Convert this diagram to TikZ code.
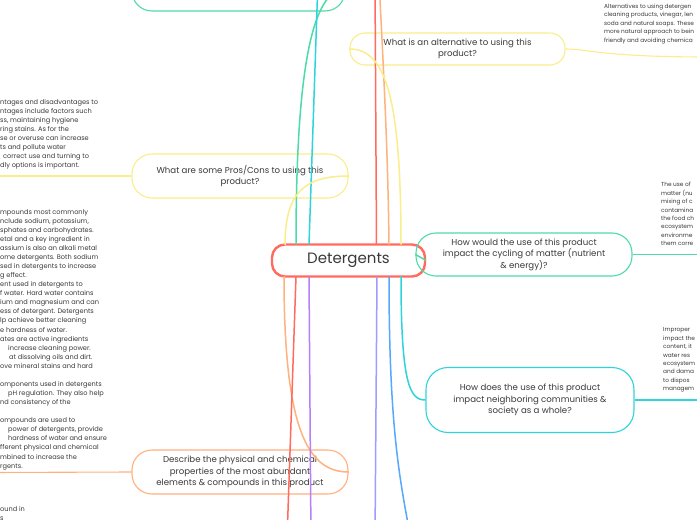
\documentclass[tikz,border=0pt]{standalone}
\usepackage{fontspec}
\setmainfont{Poppins}
\definecolor{txt}{HTML}{3A3A3A}
\definecolor{cred}{HTML}{FF6B5E}
\definecolor{corange}{HTML}{FFB27E}
\definecolor{cyellow}{HTML}{FAEE8C}
\definecolor{cgreen}{HTML}{4FDBA8}
\definecolor{ccyan}{HTML}{2FD3DC}
\definecolor{cpurple}{HTML}{B87FFA}
\definecolor{clav}{HTML}{A09CFF}
\definecolor{cblue}{HTML}{56A8FF}
\begin{document}
\begin{tikzpicture}[x=1pt,y=-1pt,
  topic/.style={draw, line width=1.1pt, rounded corners=20pt, text=txt, align=center,
    inner sep=0pt, font=\fontsize{8.6}{11.6}\selectfont},
  central/.style={draw=cred, line width=2.4pt, rounded corners=13pt, text=txt,
    inner sep=0pt, minimum width=153pt, minimum height=32pt, font=\fontsize{15}{18}\selectfont},
  leftnote/.style={anchor=north west, inner sep=0pt, align=left, text=txt,
    font=\fontsize{6.6}{9.07}\selectfont},
  rightnote/.style={anchor=north west, inner sep=0pt, align=left, text=txt,
    font=\fontsize{5.8}{8.4}\selectfont},
  branch/.style={line width=1.5pt},
  leaf/.style={line width=1.1pt}
]
\useasboundingbox (0,0) rectangle (697,520);
\fill[white] (0,0) rectangle (697,520);
\begin{scope}
\clip (0,0) rectangle (697,520);

% nodes
\node[central] (c) at (348.5,260.5) {Detergents};
\node[topic, draw=cgreen, minimum width=213pt, minimum height=44pt] (top) at (238.5,-11) {\strut\\product?};
\node[topic, draw=cyellow, minimum width=215pt, minimum height=32pt, rounded corners=15pt] (alt) at (457.5,49) {What is an alternative to using this\\product?};
\node[topic, draw=cyellow, minimum width=216pt, minimum height=44pt] (pc) at (240,176) {What are some Pros/Cons to using this\\product?};
\node[topic, draw=corange, minimum width=216pt, minimum height=44pt] (desc) at (240,472) {Describe the physical and chemical\\properties of the most abundant\\elements \& compounds in this product};
\node[topic, draw=cgreen, minimum width=216pt, minimum height=43pt] (hw) at (524,254.5) {How would the use of this product\\impact the cycling of matter (nutrient\\\& energy)?};
\node[topic, draw=ccyan, minimum width=208pt, minimum height=65pt, rounded corners=22pt] (hd) at (530,400) {How does the use of this product\\impact neighboring communities \&\\society as a whole?};

% attach points on the central node
\coordinate (cgt) at (296,244.5);
\coordinate (cct) at (309,244.5);
\coordinate (crt) at (376.5,244.5);
\coordinate (cot) at (389,244.5);
\coordinate (cyt) at (401,244.5);
\coordinate (cyl) at (285,245);
\coordinate (cob) at (284,276);
\coordinate (crb) at (296,276.5);
\coordinate (cpb) at (309,276.5);
\coordinate (clb) at (377,276.5);
\coordinate (cbb) at (389,276.5);
\coordinate (ccb) at (401,276);
% free ends off the picture
\coordinate (ecyan) at (318,-20);
\coordinate (ered) at (375,-20);
\coordinate (eorange) at (379,-20);
\coordinate (ered2) at (287,540);
\coordinate (epurple) at (311,540);
\coordinate (elav) at (375,540);
\coordinate (eblue) at (411,540);
\coordinate (lpc) at (-10,176);
\coordinate (ldesc) at (-10,472.5);
\coordinate (ralt) at (710,57);
\coordinate (rhw) at (710,254.5);
\coordinate (rhd) at (710,400);

% branches up
\draw[branch, cgreen] (cgt) .. controls (296,70) and (312,-11) .. (top.east);
\draw[branch, ccyan] (cct) -- (ecyan);
\draw[branch, cred] (crt) -- (ered);
\draw[branch, corange] (cot) .. controls (388,150) and (383,60) .. (eorange);
\draw[branch, cyellow] (cyt) .. controls (401,95) and (385,49) .. (alt.west);
\draw[branch, cyellow] (cyl) .. controls (285,192) and (305,176) .. (pc.east);
% branches down
\draw[branch, corange] (cob) .. controls (284,430) and (308,472) .. (desc.east);
\draw[branch, cred] (crb) -- (ered2);
\draw[branch, cpurple] (cpb) -- (epurple);
\draw[branch, clav] (clb) -- (elav);
\draw[branch, cblue] (cbb) .. controls (389,430) and (400,480) .. (eblue);
\draw[branch, ccyan] (ccb) .. controls (401,385) and (410,400) .. (hd.west);
\draw[branch, cgreen] (c.east) -- (hw.west);

% leaves
\draw[leaf, cyellow] (pc.west) -- (lpc);
\draw[leaf, corange] (desc.west) -- (ldesc);
\draw[leaf, cyellow] (alt.east) .. controls (590,49) and (600,57) .. (ralt);
\draw[leaf, cgreen] (hw.east) -- (rhw);
\draw[leaf, ccyan] (hd.east) -- (rhd);

% notes
\node[leftnote] (npc) at (0,97.6) {\strut ntages and disadvantages to\\
\strut ntages include factors such\\
\strut ss, maintaining hygiene\\
\strut ring stains. As for the\\
\strut se or overuse can increase\\
\strut ts and pollute water\\
\strut\hspace{3pt}correct use and turning to\\
\strut dly options is important.};

\node[leftnote] (ndesc) at (0,207.6) {\strut mpounds most commonly\\
\strut nclude sodium, potassium,\\
\strut sphates and carbohydrates.\\
\strut etal and a key ingredient in\\
\strut assium is also an alkali metal\\
\strut ome detergents. Both sodium\\
\strut sed in detergents to increase\\
\strut g effect.\\
\strut ent used in detergents to\\
\strut f water. Hard water contains\\
\strut ium and magnesium and can\\
\strut ess of detergent. Detergents\\
\strut lp achieve better cleaning\\
\strut e hardness of water.\\
\strut ates are active ingredients\\
\strut\hspace{8pt}increase cleaning power.\\
\strut\hspace{9pt}at dissolving oils and dirt.\\
\strut ove mineral stains and hard\\
\strut\\
\strut omponents used in detergents\\
\strut\hspace{8pt}pH regulation. They also help\\
\strut nd consistency of the\\
\strut\\
\strut ompounds are used to\\
\strut\hspace{8pt}power of detergents, provide\\
\strut\hspace{8pt}hardness of water and ensure\\
\strut fferent physical and chemical\\
\strut mbined to increase the\\
\strut rgents.};

\node[leftnote] (nlow) at (0,504.6) {\strut ound in\\
\strut s};

\node[rightnote] (nalt) at (604,2.5) {\strut Alternatives to using detergen\\
\strut cleaning products, vinegar, len\\
\strut soda and natural soaps. These\\
\strut more natural approach to bein\\
\strut friendly and avoiding chemica};

\node[rightnote] (nhw) at (661,180.8) {\strut The use of\\
\strut matter (nu\\
\strut mixing of c\\
\strut contamina\\
\strut the food ch\\
\strut ecosystem\\
\strut environme\\
\strut them corre};

\node[rightnote] (nhd) at (663,325.8) {\strut Improper\\
\strut impact the\\
\strut content, it\\
\strut water res\\
\strut ecosystem\\
\strut and dama\\
\strut to dispos\\
\strut managem};
\end{scope}
\end{tikzpicture}
\end{document}
